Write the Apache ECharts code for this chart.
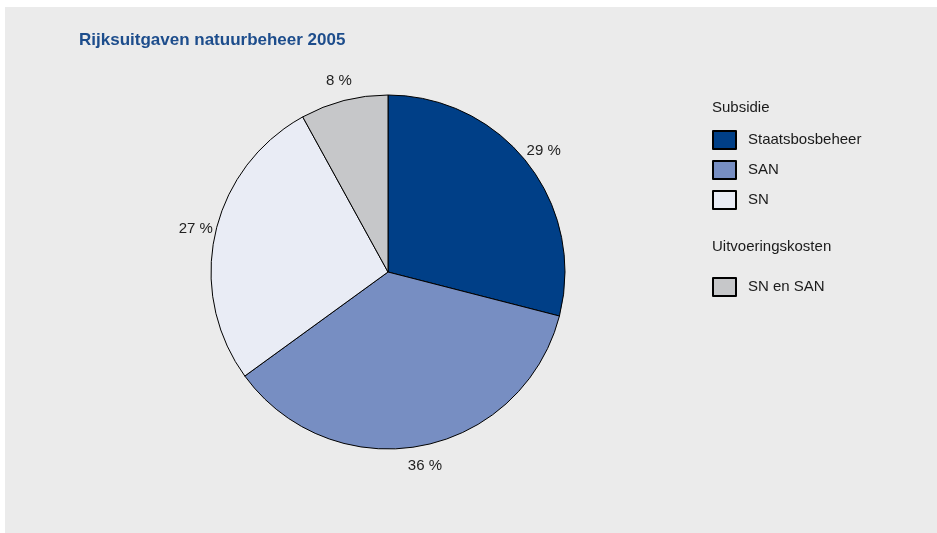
<!DOCTYPE html>
<html>
<head>
<meta charset="utf-8">
<script src="https://cdn.jsdelivr.net/npm/echarts@6/dist/echarts.min.js"></script>
<style>
  html, body { margin: 0; padding: 0; background: #ffffff; }
  #chart { width: 937px; height: 533px; }
</style>
</head>
<body>
<div id="chart"></div>
<script>
// categories and values (percent of total)
const categories = ['Staatsbosbeheer', 'SAN', 'SN', 'SN en SAN']
const values = [29, 36, 27, 8]
const colors = ['#003f87', '#778ec2', '#e9ecf5', '#c6c7c9']
// legend groups
const subsidieItems = ['Staatsbosbeheer', 'SAN', 'SN']
const uitvoeringItems = ['SN en SAN']

const fontFamily = '"Liberation Sans", Arial, sans-serif'

const myChart = echarts.init(document.getElementById('chart'))

const option = {
  backgroundColor: '#ffffff',
  animation: false,
  title: {
    text: 'Rijksuitgaven natuurbeheer 2005',
    left: 79,
    top: 32,
    padding: 0,
    textStyle: {
      color: '#1d4d8c',
      fontSize: 17,
      fontWeight: 'bold',
      fontFamily: fontFamily
    }
  },
  graphic: [
    {
      type: 'rect',
      z: -10,
      shape: { x: 5, y: 7, width: 932, height: 526 },
      style: { fill: '#ebebeb' }
    },
    {
      type: 'text',
      left: 712,
      top: 100,
      style: { text: 'Subsidie', fontSize: 15, fontFamily: fontFamily, fill: '#1a1a1a' }
    },
    {
      type: 'text',
      left: 712,
      top: 239,
      style: { text: 'Uitvoeringskosten', fontSize: 15, fontFamily: fontFamily, fill: '#1a1a1a' }
    }
  ],
  legend: [
    {
      data: subsidieItems,
      orient: 'vertical',
      left: 712,
      top: 130,
      padding: 0,
      itemWidth: 23,
      itemHeight: 18,
      itemGap: 10,
      icon: 'rect',
      selectedMode: false,
      textStyle: { fontSize: 15, fontFamily: fontFamily, color: '#1a1a1a', padding: [0, 0, 0, 7] }
    },
    {
      data: uitvoeringItems,
      orient: 'vertical',
      left: 712,
      top: 277,
      padding: 0,
      itemWidth: 23,
      itemHeight: 18,
      icon: 'rect',
      selectedMode: false,
      textStyle: { fontSize: 15, fontFamily: fontFamily, color: '#1a1a1a', padding: [0, 0, 0, 7] }
    }
  ],
  series: [
    {
      type: 'pie',
      center: [388, 272],
      radius: 177,
      startAngle: 90,
      clockwise: true,
      avoidLabelOverlap: false,
      itemStyle: {
        borderColor: '#000000',
        borderWidth: 1
      },
      label: {
        show: true,
        position: 'outside',
        alignTo: 'none',
        distanceToLabelLine: 0,
        formatter: '{c} %',
        fontSize: 15,
        fontFamily: fontFamily,
        color: '#222222'
      },
      labelLine: { show: false, length: 20, length2: 0 },
      // centre each label on the end of its (hidden) label line
      labelLayout: function (params) {
        const r = params.labelRect
        const x = params.align === 'right' ? r.x + r.width : r.x
        return { x: x, y: r.y + r.height / 2, align: 'center', verticalAlign: 'middle' }
      },
      emphasis: { disabled: true },
      data: categories.map((name, i) => ({
        name: name,
        value: values[i],
        itemStyle: { color: colors[i] }
      }))
    }
  ]
}

myChart.setOption(option, true)
addEventListener('resize', () => {
  myChart.resize()
})
</script>
</body>
</html>
